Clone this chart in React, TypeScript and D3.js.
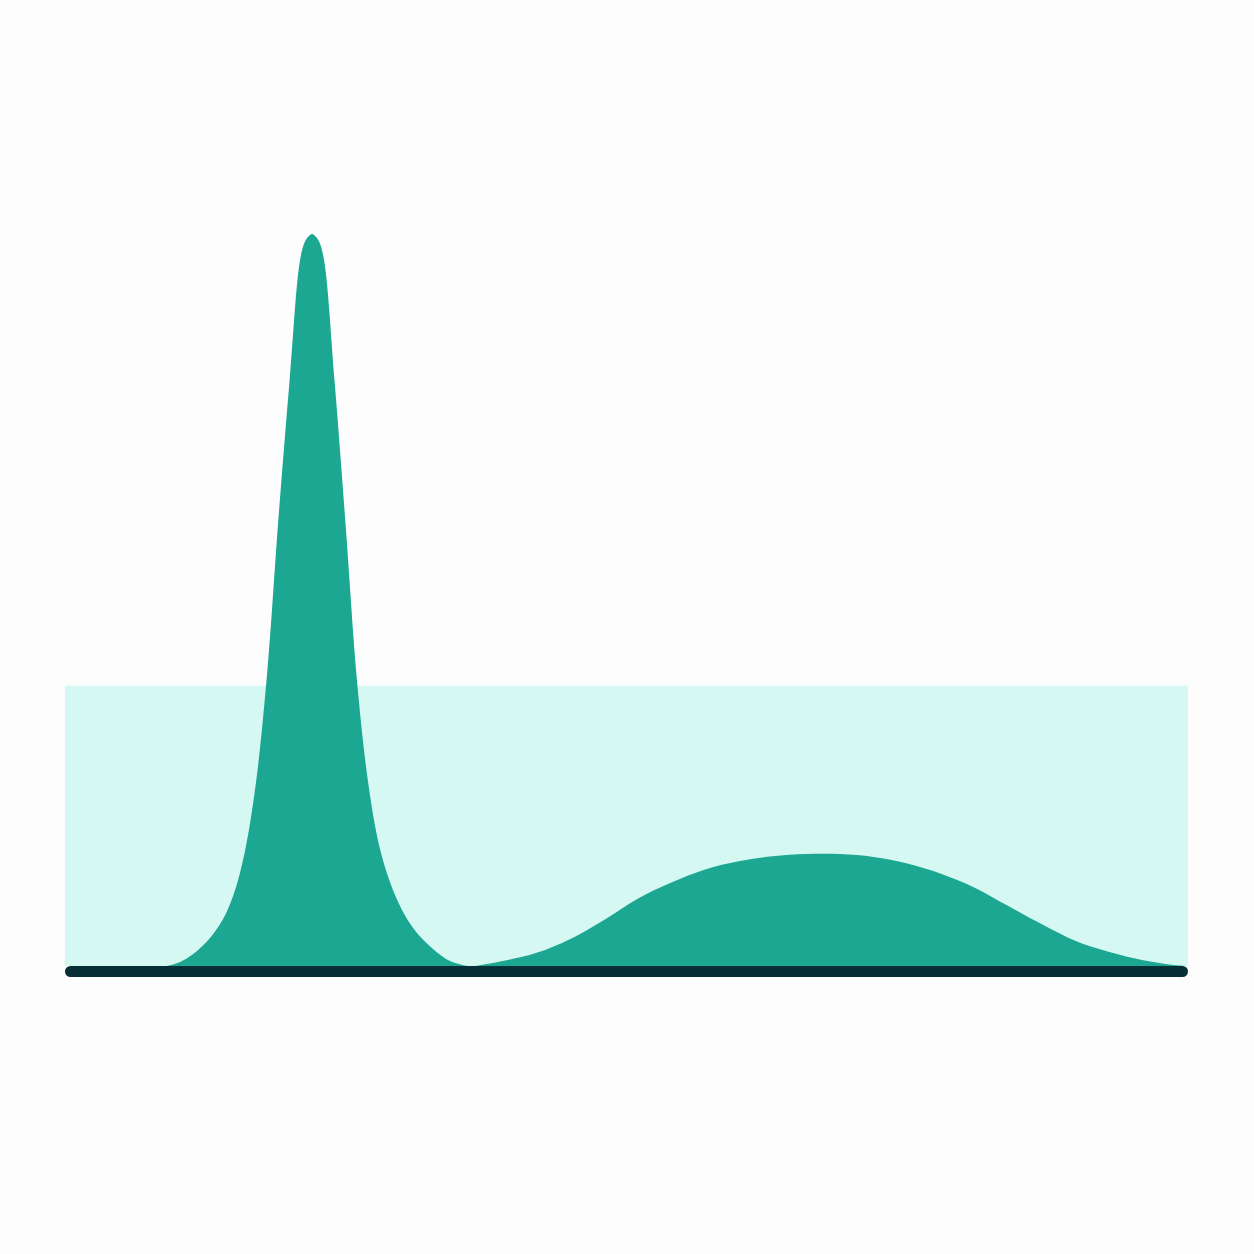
import * as d3 from "d3";

// measurement axis (arbitrary units) and the density estimate at each point
const xValues = [
  0, 0.9, 1.0, 1.1, 1.2, 1.3, 1.4, 1.5, 1.6, 1.7, 1.8, 1.9, 2.0, 2.1, 2.15, 2.2, 2.25, 2.3,
  2.4, 2.5, 2.6, 2.7, 2.8, 2.9, 3.0, 3.1, 3.2, 3.3, 3.4, 3.5, 3.6,
  3.9, 4.2, 4.5, 4.8, 5.1, 5.4, 5.7, 6.0, 6.3, 6.6, 6.9, 7.2, 7.5, 7.8, 8.1, 8.4, 8.7,
  9.0, 9.3, 9.6, 9.9, 10,
];
const densityValues = [
  0, 0, 0.004, 0.012, 0.024, 0.04, 0.062, 0.097, 0.155, 0.25, 0.4, 0.61, 0.8, 0.97, 0.993, 1,
  0.993, 0.97, 0.8, 0.6, 0.39, 0.25, 0.163, 0.112, 0.077, 0.052, 0.034, 0.02, 0.009, 0.003, 0,
  0.007, 0.018, 0.037, 0.063, 0.092, 0.114, 0.132, 0.143, 0.15, 0.153, 0.153, 0.149, 0.14,
  0.126, 0.107, 0.082, 0.057, 0.034, 0.019, 0.008, 0.001, 0,
];
// shaded reference band (from 0 up to this density)
const bandTop = 0.383;

const width = 1254;
const height = 1254;
const margin = { left: 65, right: 66, top: 234, bottom: 288 };

const colors = {
  background: "#fdfdfd",
  band: "#d6f8f2",
  area: "#1ba792",
  baseline: "#072f37",
};

export default function App() {
  const points = xValues.map((x, i) => ({ x, y: densityValues[i] }));

  const xScale = d3.scaleLinear()
    .domain([0, 10])
    .range([margin.left, width - margin.right]);

  const yScale = d3.scaleLinear()
    .domain([0, 1])
    .range([height - margin.bottom, margin.top]);

  const area = d3.area<{ x: number; y: number }>()
    .x((d) => xScale(d.x))
    .y0(yScale(0))
    .y1((d) => yScale(d.y))
    .curve(d3.curveCatmullRom.alpha(0.5));

  const lineWidth = 11;
  const baseY = yScale(0) + lineWidth / 2;

  return (
    <svg
      width={width}
      height={height}
      style={{ position: "absolute", left: 0, top: 0, display: "block" }}
    >
      <rect x={0} y={0} width={width} height={height} fill={colors.background} />
      <rect
        x={xScale(0)}
        y={yScale(bandTop)}
        width={xScale(10) - xScale(0)}
        height={yScale(0) - yScale(bandTop)}
        fill={colors.band}
      />
      <path d={area(points) ?? ""} fill={colors.area} />
      <line
        x1={xScale(0) + lineWidth / 2}
        x2={xScale(10) - lineWidth / 2}
        y1={baseY}
        y2={baseY}
        stroke={colors.baseline}
        strokeWidth={lineWidth}
        strokeLinecap="round"
      />
    </svg>
  );
}
